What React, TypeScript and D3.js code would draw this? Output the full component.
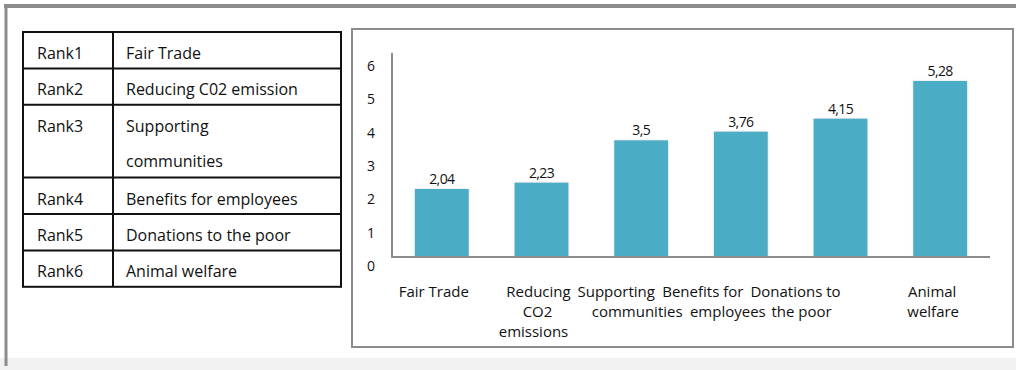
import React from 'react';
import * as d3 from 'd3';

// Ranking table
const rankLabels = ['Rank1', 'Rank2', 'Rank3', 'Rank4', 'Rank5', 'Rank6'];
const rankItems = [
  ['Fair Trade'],
  ['Reducing C02 emission'],
  ['Supporting', 'communities'],
  ['Benefits for employees'],
  ['Donations to the poor'],
  ['Animal welfare'],
];

// Bar chart
const categories = [
  'Fair Trade',
  'Reducing CO2 emissions',
  'Supporting communities',
  'Benefits for employees',
  'Donations to the poor',
  'Animal welfare',
];
const categoryLines = [
  ['Fair Trade'],
  ['Reducing', 'CO2', 'emissions'],
  ['Supporting', 'communities'],
  ['Benefits for', 'employees'],
  ['Donations to', 'the poor'],
  ['Animal', 'welfare'],
];
const values = [2.04, 2.23, 3.5, 3.76, 4.15, 5.28];
const yTicks = [0, 1, 2, 3, 4, 5, 6];

// horizontal nudge of each category label line from its band centre
const labelShift = [[-8], [-3, -4, -8], [-25, -4], [-38, -13], [-45, -39], [-8, -7]];

const W = 1016;
const H = 370;
const FONT = "'Open Sans', 'DejaVu Sans', sans-serif";

const fmt = (v: number) => String(v).replace('.', ',');

export default function App() {
  const x = d3
    .scaleBand<string>()
    .domain(categories)
    .range([392, 990])
    .paddingInner(0.46)
    .paddingOuter(0.23);
  const y = d3.scaleLinear().domain([0, 6]).range([257, 57]);

  // table geometry
  const tLeft = 23;
  const tRight = 341;
  const tCol = 113;
  const tTop = 32;
  const lineH = 36.4;
  const rowTops: number[] = [];
  let acc = tTop;
  rankItems.forEach((lines) => {
    rowTops.push(acc);
    acc += lines.length * lineH;
  });
  const tBottom = acc;

  return (
    <svg
      width={W}
      height={H}
      style={{ position: 'absolute', left: 0, top: 0, background: '#fff' }}
      fontFamily={FONT}
    >
      <defs>
        <filter id="barGlow" x="-20%" y="-20%" width="140%" height="140%">
          <feDropShadow dx="0" dy="0" stdDeviation="1.2" floodColor="#b9c9cf" floodOpacity="0.7" />
        </filter>
      </defs>

      {/* page frame */}
      <rect x={0} y={0} width={W} height={H} fill="#fff" />
      <rect x={0} y={358} width={W} height={12} fill="#f2f2f2" />
      <line x1={4} x2={W} y1={6} y2={6} stroke="#8c8c8c" strokeWidth={4} />
      <line x1={6} x2={6} y1={4} y2={366} stroke="#8c8c8c" strokeWidth={3} />

      {/* ranking table */}
      <g fontSize={16} fill="#111">
        {rankItems.map((lines, i) => (
          <g key={i}>
            <text x={37} y={rowTops[i] + 27}>
              {rankLabels[i]}
            </text>
            {lines.map((ln, j) => (
              <text key={j} x={126} y={rowTops[i] + 27 + j * 35}>
                {ln}
              </text>
            ))}
          </g>
        ))}
        <g stroke="#111" strokeWidth={2} fill="none">
          <rect x={tLeft} y={tTop} width={tRight - tLeft} height={tBottom - tTop} />
          <line x1={tCol} x2={tCol} y1={tTop} y2={tBottom} />
          {rowTops.slice(1).map((t, i) => (
            <line key={i} x1={tLeft} x2={tRight} y1={t} y2={t} />
          ))}
        </g>
      </g>

      {/* chart frame */}
      <rect x={352} y={29} width={661} height={318} fill="#fff" stroke="#8c8c8c" strokeWidth={2} />

      {/* bars */}
      {categories.map((c, i) => (
        <rect
          key={c}
          x={x(c)}
          y={y(values[i])}
          width={x.bandwidth()}
          height={y(0) - y(values[i])}
          fill="#4bacc6"
          filter="url(#barGlow)"
        />
      ))}

      {/* axes */}
      <line x1={392} x2={392} y1={53} y2={y(0)} stroke="#8c8c8c" strokeWidth={2} />
      <line x1={391} x2={990} y1={y(0)} y2={y(0)} stroke="#8c8c8c" strokeWidth={2} />

      <g fontSize={14} fill="#111" textAnchor="middle">
        {yTicks.map((t) => (
          <text key={t} x={371} y={y(t) + 14}>
            {t}
          </text>
        ))}
      </g>

      {/* value labels */}
      <g fontSize={14} fill="#111" textAnchor="middle" letterSpacing={-0.6}>
        {categories.map((c, i) => (
          <text key={c} x={(x(c) as number) + x.bandwidth() / 2} y={y(values[i]) - 5}>
            {fmt(values[i])}
          </text>
        ))}
      </g>

      {/* category labels */}
      <g fontSize={15} fill="#111" textAnchor="middle">
        {categories.map((c, i) =>
          categoryLines[i].map((ln, j) => (
            <text
              key={c + j}
              x={(x(c) as number) + x.bandwidth() / 2 + labelShift[i][j]}
              y={297 + j * 20}
            >
              {ln}
            </text>
          ))
        )}
      </g>
    </svg>
  );
}
